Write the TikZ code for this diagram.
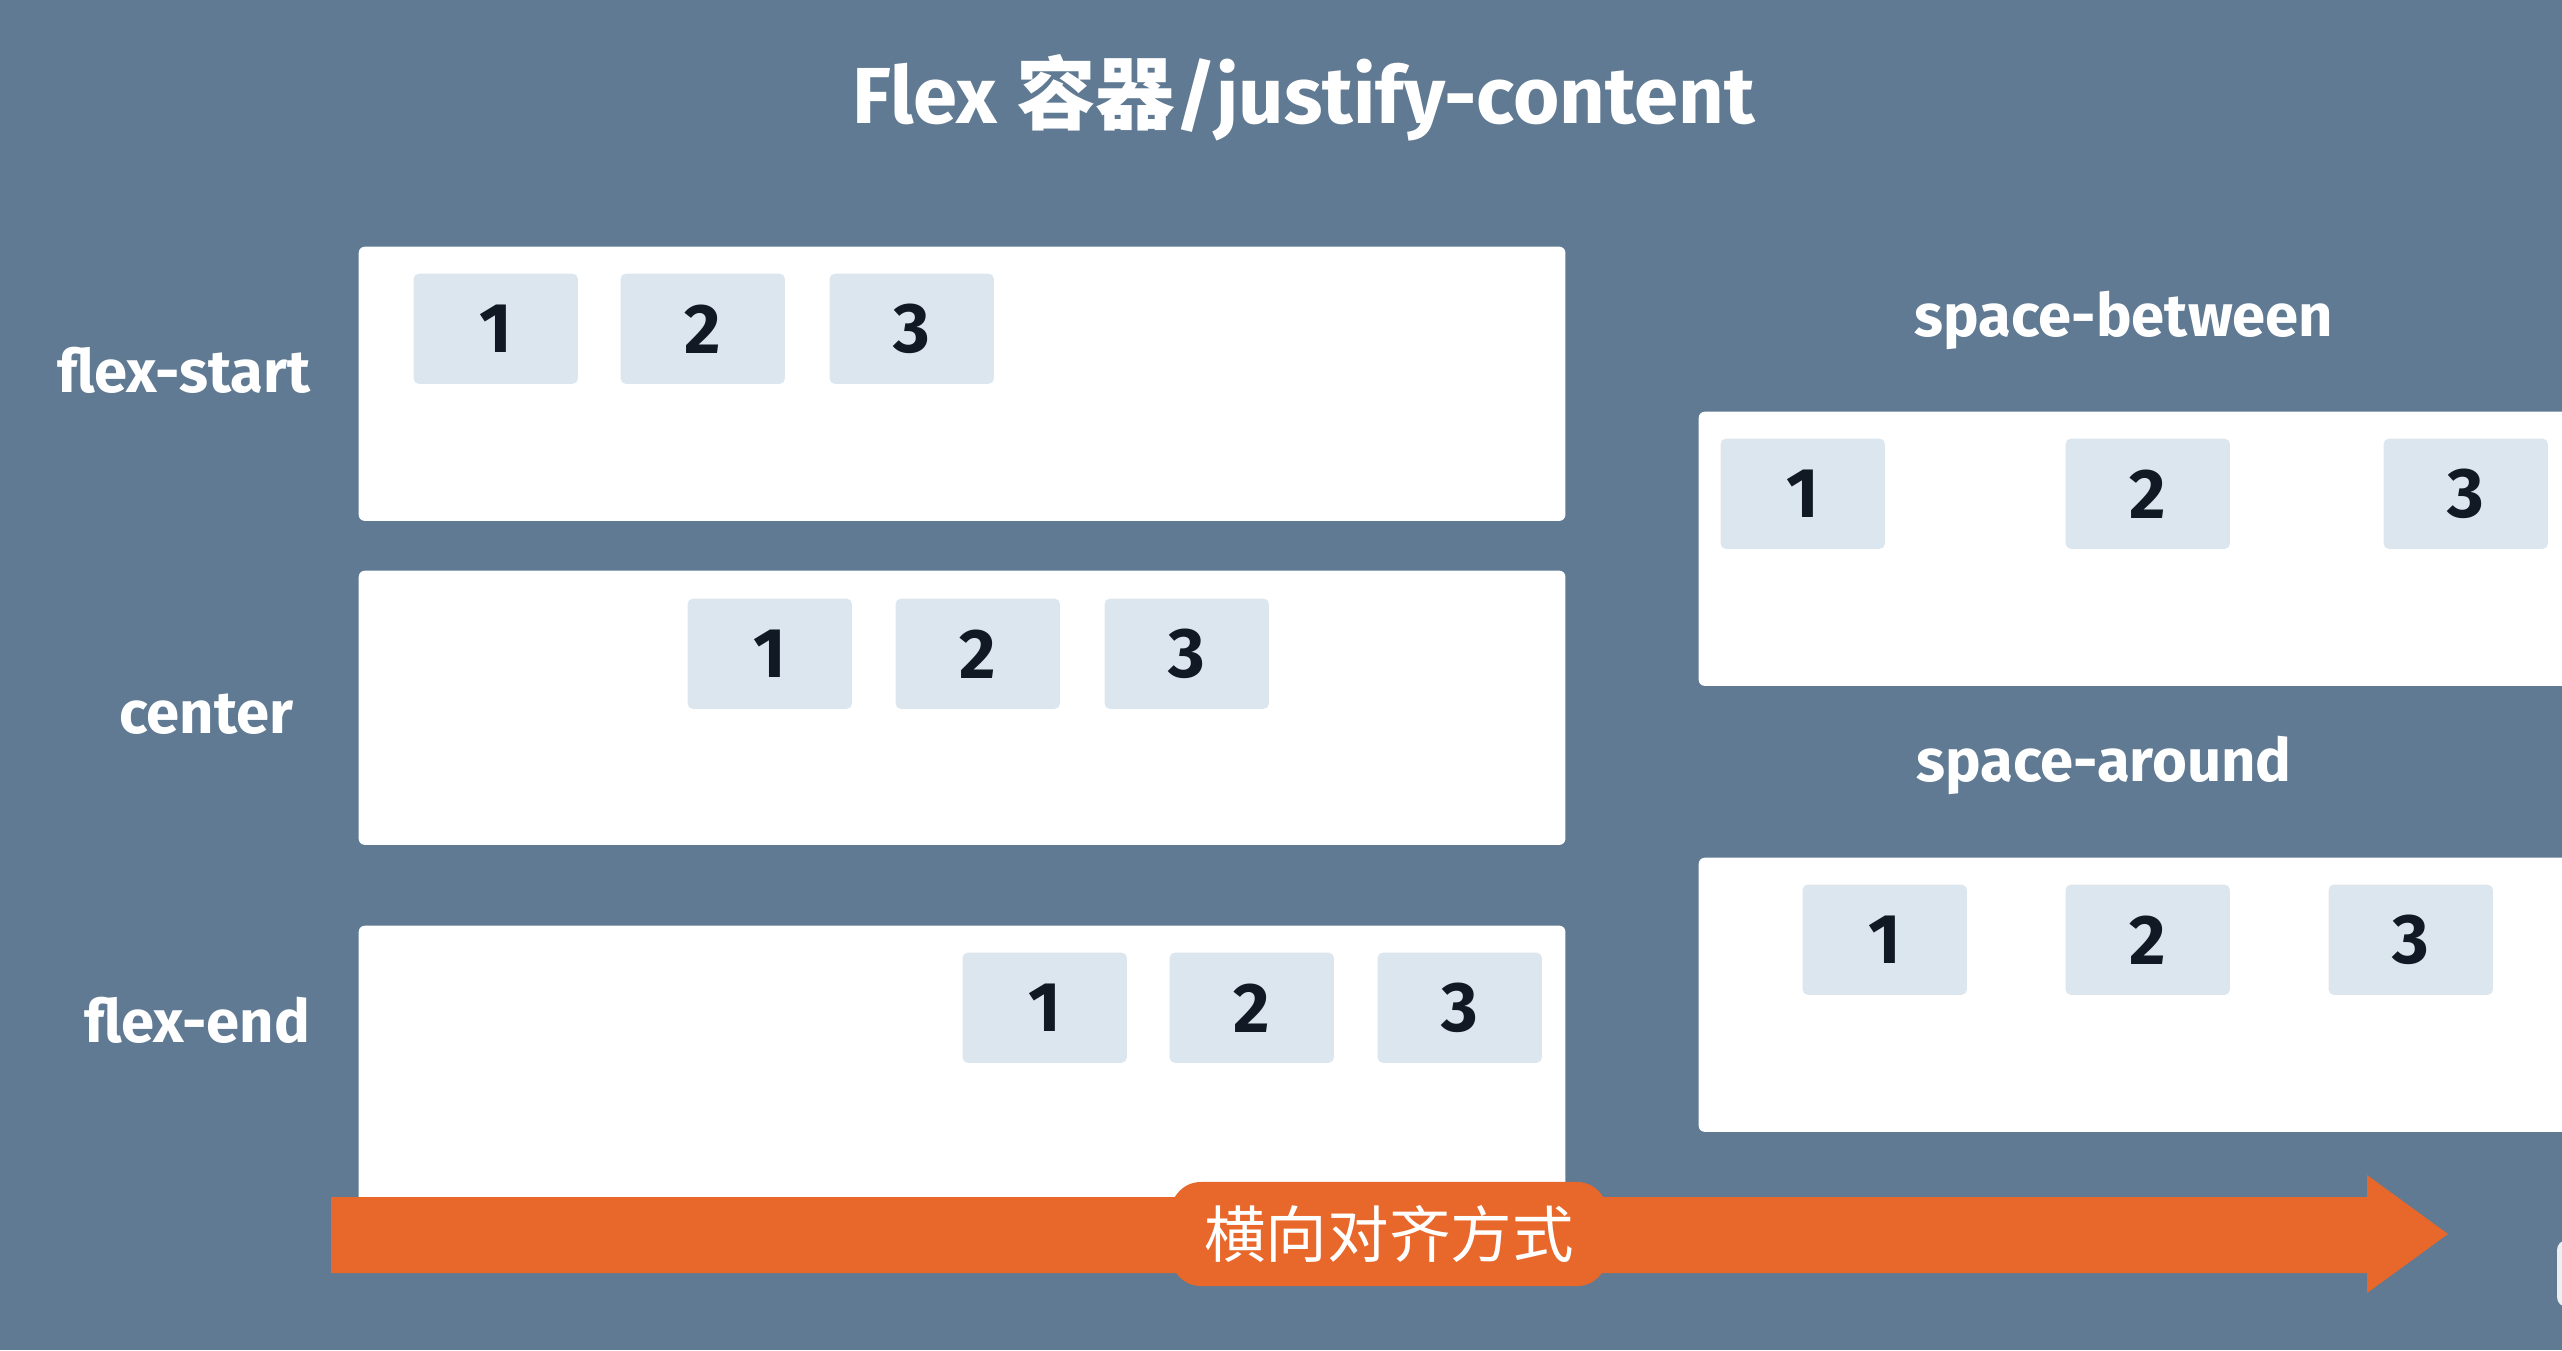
\documentclass[tikz,border=0pt]{standalone}
\usepackage{fontspec}
\setmainfont{Fira Sans}
\newfontfamily\cjk{Noto Sans CJK SC}
\definecolor{bg}{HTML}{5F7A92}
\definecolor{it}{HTML}{DCE6EE}
\definecolor{og}{HTML}{E8672A}
\definecolor{ink}{HTML}{111A24}
\begin{document}
\begin{tikzpicture}[x=.01cm, y=-.01cm, line join=round,
	hop/.style={fill=white, rounded corners=.06cm, anchor=north west, minimum width=12.06cm, minimum height=2.74cm, inner sep=0},
	o/.style={fill=it, rounded corners=.05cm, anchor=north west, minimum width=1.64cm, minimum height=1.1cm, inner sep=0, text=ink, font=\bfseries\fontsize{20}{20}\selectfont},
	lab/.style={text=white, anchor=base, font=\bfseries\fontsize{17}{20}\selectfont}]
	\fill[bg] (0,0) rectangle (2562,1350);
	\useasboundingbox (0,0) rectangle (2562,1350);
	\node[text=white, anchor=base, font=\bfseries\fontsize{22.6}{26}\selectfont] (title) at (1304,123) {Flex {\cjk 容器}/justify-content};
	% Hộp bên trái
	\node[hop] (fs) at (358,246) {};
	\node[hop] (ce) at (358,570) {};
	\node[hop, minimum height=2.95cm] (fe) at (358,925) {};
	\node[lab, anchor=base east] (lfs) at (323,392) {flex-start};
	\node[lab] (lce) at (206,733) {center};
	\node[lab] (lfe) at (197,1042) {flex-end};
	\foreach \i/\x in {1/413,2/620,3/829} \node[o] (fs\i) at (\x,273) {\i};
	\foreach \i/\x in {1/687,2/895,3/1104} \node[o] (ce\i) at (\x,598) {\i};
	\foreach \i/\x in {1/962,2/1169,3/1377} \node[o] (fe\i) at (\x,952) {\i};
	% Hộp bên phải
	\node[hop, minimum width=9cm] (sb) at (1698,411) {};
	\node[hop, minimum width=9cm] (sa) at (1698,857) {};
	\node[lab] (lsb) at (2124,336) {space-between};
	\node[lab] (lsa) at (2104,781) {space-around};
	\foreach \i/\x in {1/1720,2/2065,3/2383} \node[o] (sb\i) at (\x,438) {\i};
	\foreach \i/\x in {1/1802,2/2065,3/2328} \node[o] (sa\i) at (\x,884) {\i};
	% Mũi tên
	\fill[og] (331,1197) -- (2367,1197) -- (2367,1175) -- (2448,1234) -- (2367,1293) -- (2367,1273) -- (331,1273) -- cycle;
	\node[fill=og, rounded corners=.3cm, minimum width=4.36cm, minimum height=1.04cm, text=white, font=\cjk\fontsize{17.5}{20}\selectfont] (dir) at (1389,1234) {横向对齐方式};
	\fill[white!88!bg, rounded corners=.1cm] (2557,1240) rectangle (2600,1307);
\end{tikzpicture}
\end{document}
